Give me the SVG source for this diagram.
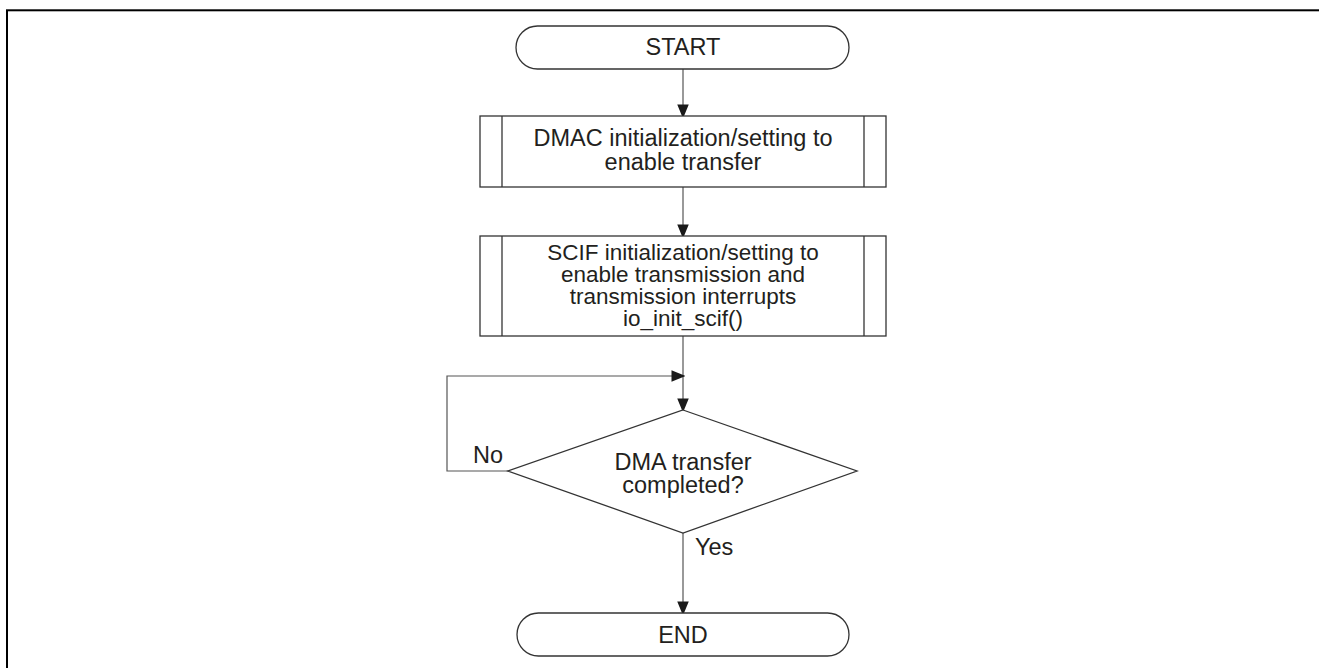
<svg xmlns="http://www.w3.org/2000/svg" width="1319" height="668" viewBox="0 0 1319 668">
<style>
.t{font-family:"Liberation Sans",Arial,sans-serif;font-size:23.5px;fill:#231f20;text-anchor:middle}
.t2{font-family:"Liberation Sans",Arial,sans-serif;font-size:22.5px;fill:#231f20;text-anchor:middle}
.l{font-family:"Liberation Sans",Arial,sans-serif;font-size:23.5px;fill:#231f20}
.s{fill:#fff;stroke:#333;stroke-width:1.3}
.c{fill:none;stroke:#555;stroke-width:1.2}
</style>
<defs>
<marker id="a" markerWidth="14" markerHeight="17" refX="14" refY="7" orient="auto" markerUnits="userSpaceOnUse" viewBox="0 0 17 14">
<path d="M0,0 L17,7 L0,14 Z" fill="#1a1a1a"/>
</marker>
</defs>
<rect x="7" y="10.3" width="1330" height="680" fill="none" stroke="#000" stroke-width="2"/>
<g id="connectors">
<line class="c" x1="683" y1="69" x2="683" y2="116" marker-end="url(#a)"/>
<line class="c" x1="683" y1="187" x2="683" y2="236" marker-end="url(#a)"/>
<line class="c" x1="683" y1="336" x2="683" y2="410" marker-end="url(#a)"/>
<polyline class="c" points="508,471 447,471 447,376 683,376" marker-end="url(#a)"/>
<line class="c" x1="683" y1="533" x2="683" y2="613" marker-end="url(#a)"/>
<text class="l" x="473" y="463">No</text>
<text class="l" x="695" y="555">Yes</text>
</g>
<g id="start">
<rect class="s" x="516" y="26" width="333" height="43" rx="21.5"/>
<text class="t" x="683" y="55">START</text>
</g>
<g id="dmac">
<rect class="s" x="480" y="116" width="406" height="71"/>
<line class="s" x1="502" y1="116" x2="502" y2="187"/>
<line class="s" x1="864" y1="116" x2="864" y2="187"/>
<text class="t" x="683" y="146">DMAC initialization/setting to</text>
<text class="t" x="683" y="170">enable transfer</text>
</g>
<g id="scif">
<rect class="s" x="480" y="236" width="406" height="100"/>
<line class="s" x1="502" y1="236" x2="502" y2="336"/>
<line class="s" x1="864" y1="236" x2="864" y2="336"/>
<text class="t2" x="683" y="260">SCIF initialization/setting to</text>
<text class="t2" x="683" y="282">enable transmission and</text>
<text class="t2" x="683" y="304">transmission interrupts</text>
<text class="t2" x="683" y="326">io_init_scif()</text>
</g>
<g id="decision">
<polygon class="s" points="683,410 857,471 683,533 508,471"/>
<text class="t" x="683" y="470">DMA transfer</text>
<text class="t" x="683" y="493">completed?</text>
</g>
<g id="end">
<rect class="s" x="517" y="613" width="332" height="43" rx="21.5"/>
<text class="t" x="683" y="643">END</text>
</g>
</svg>
